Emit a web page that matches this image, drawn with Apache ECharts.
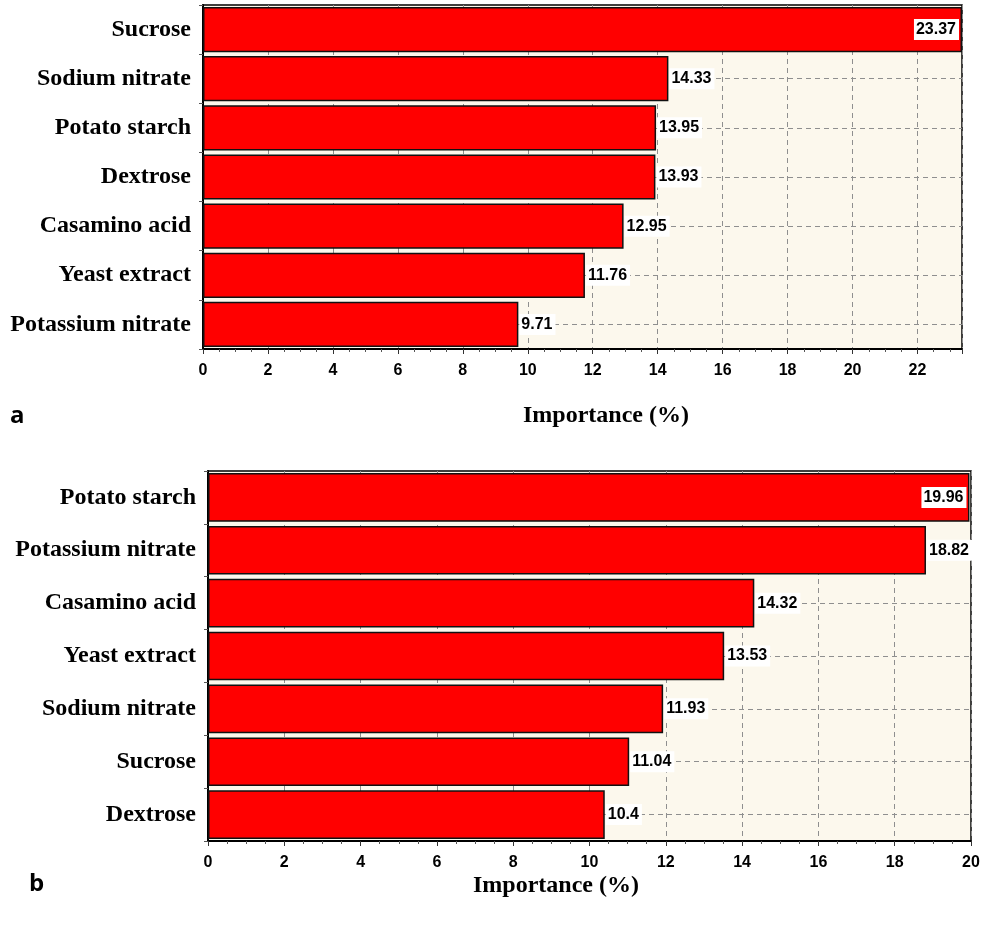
<!DOCTYPE html>
<html>
<head>
<meta charset="utf-8">
<script src="https://cdn.jsdelivr.net/npm/echarts@6/dist/echarts.min.js"></script>
<style>
  html, body { margin: 0; padding: 0; background: #fff; }
  #chart { width: 987px; height: 930px; }
</style>
</head>
<body>
<div id="chart"></div>
<script>
// panel a
var catsA = ['Sucrose', 'Sodium nitrate', 'Potato starch', 'Dextrose', 'Casamino acid', 'Yeast extract', 'Potassium nitrate'];
var valsA = [23.37, 14.33, 13.95, 13.93, 12.95, 11.76, 9.71];
var maxA = 23.37;
// panel b
var catsB = ['Potato starch', 'Potassium nitrate', 'Casamino acid', 'Yeast extract', 'Sodium nitrate', 'Sucrose', 'Dextrose'];
var valsB = [19.96, 18.82, 14.32, 13.53, 11.93, 11.04, 10.4];
var maxB = 20;

var serif = '"Liberation Serif", "Times New Roman", serif';
var sans = '"Liberation Sans", Arial, sans-serif';
var dash = { color: '#8f8f8f', type: [5, 4], width: 1 };

function barData(vals) {
    var top = Math.max.apply(null, vals);
    return vals.map(function (v) {
        var item = { value: v };
        if (v === top) item.label = { position: 'insideRight', distance: 3 };
        return item;
    });
}

function xAxisFor(idx, max) {
    return {
        type: 'value', gridIndex: idx, min: 0, max: max, interval: 2,
        axisLine: { show: true, lineStyle: { color: '#000', width: 2 } },
        axisTick: { show: true, length: 5, lineStyle: { color: '#333' } },
        minorTick: { show: true, splitNumber: 4, length: 3, lineStyle: { color: '#555' } },
        splitLine: { show: true, lineStyle: dash },
        axisLabel: {
            color: '#000', fontWeight: 'bold', fontSize: 16, fontFamily: sans, margin: 14,
            showMaxLabel: max === 20
        }
    };
}

function yAxisFor(idx, cats) {
    return {
        type: 'category', gridIndex: idx, data: cats, inverse: true,
        axisLine: { show: true, lineStyle: { color: '#000', width: 2 } },
        axisTick: { show: true, length: 4, lineStyle: { color: '#555' } },
        splitLine: { show: false },
        axisLabel: { color: '#000', fontWeight: 'bold', fontSize: 24, fontFamily: serif, margin: 12 }
    };
}

function seriesFor(idx, cats, vals) {
    return {
        type: 'bar', xAxisIndex: idx, yAxisIndex: idx, data: barData(vals),
        barCategoryGap: '8%', z: 2,
        itemStyle: { color: '#ff0000', borderColor: '#111', borderWidth: 1.5 },
        label: {
            show: true, position: 'right', distance: 1, color: '#000',
            fontWeight: 'bold', fontSize: 16, fontFamily: sans,
            backgroundColor: '#fff', padding: [3, 3, 2, 2]
        },
        markLine: {
            silent: true, symbol: 'none', z: 1,
            label: { show: false },
            lineStyle: dash,
            data: cats.map(function (c) { return { yAxis: c }; })
        }
    };
}

var chart = echarts.init(document.getElementById('chart'));
chart.setOption({
    animation: false,
    grid: [
        { left: 203, top: 5, width: 759, height: 344, show: true, backgroundColor: '#fcf8ed', borderColor: '#000', borderWidth: 1.5 },
        { left: 208, top: 471, width: 763, height: 370, show: true, backgroundColor: '#fcf8ed', borderColor: '#000', borderWidth: 1.5 }
    ],
    xAxis: [xAxisFor(0, maxA), xAxisFor(1, maxB)],
    yAxis: [yAxisFor(0, catsA), yAxisFor(1, catsB)],
    series: [seriesFor(0, catsA, valsA), seriesFor(1, catsB, valsB)],
    graphic: [
        { type: 'text', left: 523, top: 404, style: { text: 'Importance (%)', font: 'bold 24px ' + serif, fill: '#000' } },
        { type: 'text', left: 473, top: 874, style: { text: 'Importance (%)', font: 'bold 24px ' + serif, fill: '#000' } },
        { type: 'text', left: 10, top: 404, style: { text: 'a', font: 'bold 24px "Open Sans", sans-serif', fill: '#000' } },
        { type: 'text', left: 29, top: 872, style: { text: 'b', font: 'bold 24px "Open Sans", sans-serif', fill: '#000' } }
    ]
});
</script>
</body>
</html>
